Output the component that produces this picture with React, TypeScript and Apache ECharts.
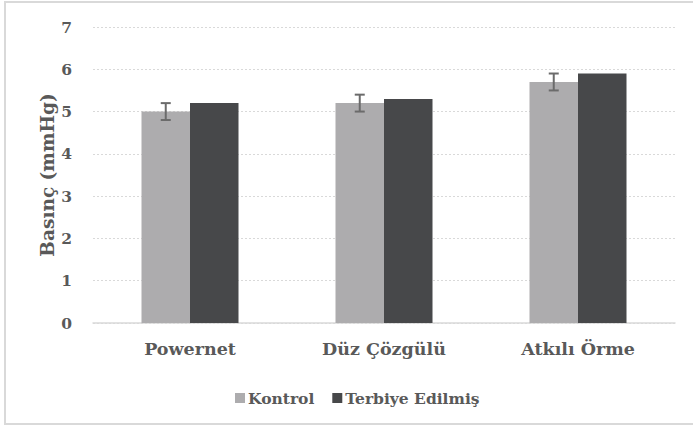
import React, { useEffect, useRef } from "react";
import * as echarts from "echarts";

const categories = ["Powernet", "Düz Çözgülü", "Atkılı Örme"];
const kontrolValues = [5.0, 5.2, 5.7];
const terbiyeValues = [5.2, 5.3, 5.9];
const kontrolErrors = [0.2, 0.2, 0.2];
const yTicks = [0, 1, 2, 3, 4, 5, 6, 7];

const FONT = "DejaVu Serif";
const TEXT = "#595959";

export default function App() {
  const ref = useRef<HTMLDivElement>(null);
  useEffect(() => {
    if (!ref.current) return;
    const chart = echarts.init(ref.current, null, { renderer: "svg" });
    const errData = categories.map((_, i) => [
      i,
      kontrolValues[i] - kontrolErrors[i],
      kontrolValues[i] + kontrolErrors[i],
    ]);
    chart.setOption({
      animation: false,
      backgroundColor: "#ffffff",
      graphic: [
        {
          type: "rect",
          shape: { x: 5, y: 2, width: 700, height: 422 },
          style: { fill: "none", stroke: "#D9D9D9", lineWidth: 2 },
          silent: true,
        },
      ],
      grid: { left: 93, right: 18, top: 27, bottom: 105 },
      legend: {
        data: ["Kontrol", "Terbiye Edilmiş"],
        top: 385,
        left: 230,
        itemWidth: 10,
        itemHeight: 10,
        itemGap: 18,
        icon: "rect",
        textStyle: { fontFamily: FONT, fontSize: 15.5, fontWeight: "bold", color: TEXT, padding: [0, 0, 0, -2] },
      },
      xAxis: {
        type: "category",
        data: categories,
        axisLine: { lineStyle: { color: "#D9D9D9", width: 1.5 } },
        axisTick: { show: false },
        axisLabel: { fontFamily: FONT, fontSize: 17.5, fontWeight: "bold", color: TEXT, margin: 17 },
      },
      yAxis: {
        type: "value",
        min: yTicks[0],
        max: yTicks[yTicks.length - 1],
        interval: 1,
        name: "Basınç (mmHg)",
        nameLocation: "middle",
        nameGap: 36,
        nameMoveOverlap: false,
        nameTextStyle: { fontFamily: FONT, fontSize: 18.5, fontWeight: "bold", color: TEXT },
        axisLine: { show: false },
        axisTick: { show: false },
        axisLabel: { fontFamily: FONT, fontSize: 15.5, fontWeight: "bold", color: TEXT, margin: 21 },
        splitLine: { lineStyle: { color: "#D9D9D9", type: [2, 2], width: 1 } },
      },
      series: [
        {
          name: "Kontrol",
          type: "bar",
          data: kontrolValues,
          barGap: "0%",
          barCategoryGap: "50%",
          itemStyle: { color: "#ADACAE" },
        },
        {
          name: "Terbiye Edilmiş",
          type: "bar",
          data: terbiyeValues,
          barGap: "0%",
          barCategoryGap: "50%",
          itemStyle: { color: "#47484A" },
        },
        {
          name: "err",
          type: "custom",
          data: errData,
          z: 10,
          renderItem: (params: any, api: any) => {
            const idx = api.value(0);
            const lo = api.coord([idx, api.value(1)]);
            const hi = api.coord([idx, api.value(2)]);
            const cat = api.size([1, 0])[0];
            const barW = (cat * 0.5) / 2;
            const x = lo[0] - barW / 2;
            const cap = 5;
            const style = { stroke: "#6B6B6B", lineWidth: 2, fill: "none" };
            return {
              type: "group",
              children: [
                { type: "line", shape: { x1: x, y1: lo[1], x2: x, y2: hi[1] }, style },
                { type: "line", shape: { x1: x - cap, y1: lo[1], x2: x + cap, y2: lo[1] }, style },
                { type: "line", shape: { x1: x - cap, y1: hi[1], x2: x + cap, y2: hi[1] }, style },
              ],
            };
          },
        },
      ],
    });
    return () => chart.dispose();
  }, []);
  return (
    <div
      ref={ref}
      style={{ position: "fixed", left: 0, top: 0, width: 693, height: 428 }}
    />
  );
}
